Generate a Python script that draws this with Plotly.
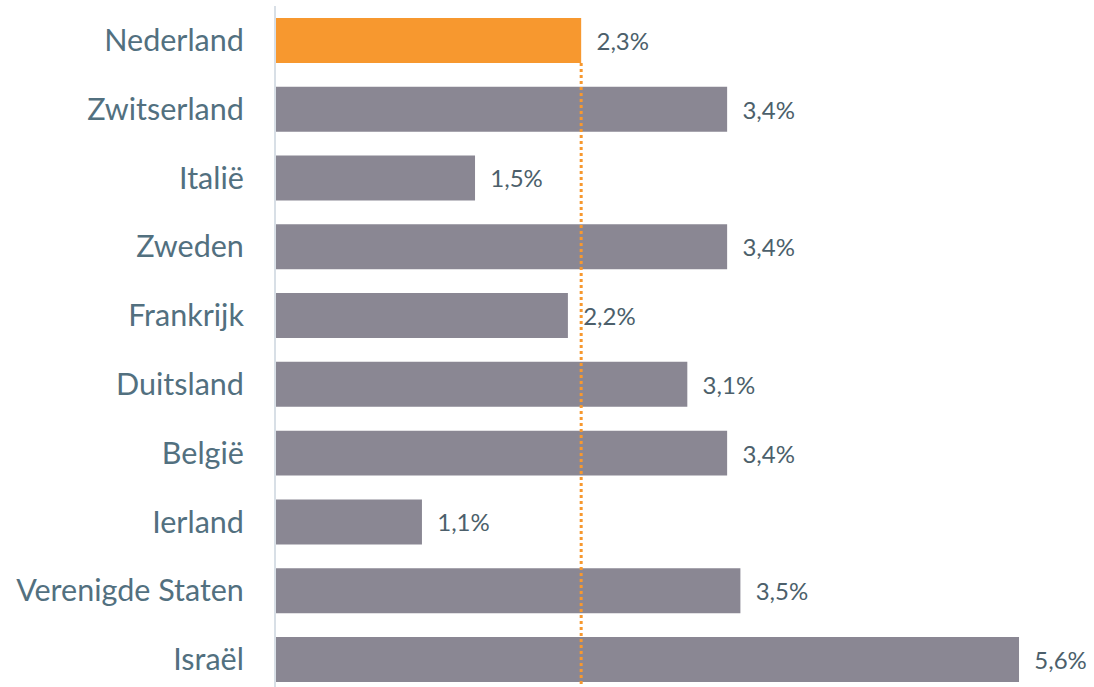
import plotly.graph_objects as go

countries = ["Nederland", "Zwitserland", "Italië", "Zweden", "Frankrijk",
             "Duitsland", "België", "Ierland", "Verenigde Staten", "Israël"]
values = [2.3, 3.4, 1.5, 3.4, 2.2, 3.1, 3.4, 1.1, 3.5, 5.6]
labels = ["2,3%", "3,4%", "1,5%", "3,4%", "2,2%", "3,1%", "3,4%", "1,1%", "3,5%", "5,6%"]
highlight = "Nederland"
reference_value = values[countries.index(highlight)]

ORANGE = "#f7982f"
GREY = "#8a8793"
colors = [ORANGE if c == highlight else GREY for c in countries]

fig = go.Figure()
fig.add_trace(go.Bar(
    x=values, y=countries, orientation="h",
    marker=dict(color=colors, line=dict(width=0)),
    text=["  " + t for t in labels], textposition="outside",
    textfont=dict(size=24, color="#4c5f6b", family="Lato"),
    cliponaxis=False, hoverinfo="skip",
))

bar_half = 0.327
fig.add_shape(type="line", xref="x", yref="y",
              x0=reference_value, x1=reference_value,
              y0=bar_half, y1=9.4,
              line=dict(color=ORANGE, width=3, dash="dot"), layer="above")

fig.update_layout(
    width=1094, height=687,
    margin=dict(l=276, r=0, t=6, b=0, autoexpand=False),
    paper_bgcolor="white", plot_bgcolor="white",
    bargap=0.346, showlegend=False,
    font=dict(family="Lato", color="#4f6b7a"),
    xaxis=dict(range=[0, 6.165], visible=False, showgrid=False, zeroline=False,
               automargin=False),
    yaxis=dict(type="category", categoryorder="array", categoryarray=countries,
               range=[9.4, -0.5], showgrid=False, zeroline=False,
               showline=True, linecolor="#d8dfe6", linewidth=2,
               ticks="", ticklabelstandoff=24, automargin=False,
               tickfont=dict(size=30.5, color="#52707f", family="Lato")),
)

fig.write_html("out.html",
               config={"displayModeBar": False, "staticPlot": True},
               post_script="document.body.style.margin='0';document.body.style.overflow='hidden';")
